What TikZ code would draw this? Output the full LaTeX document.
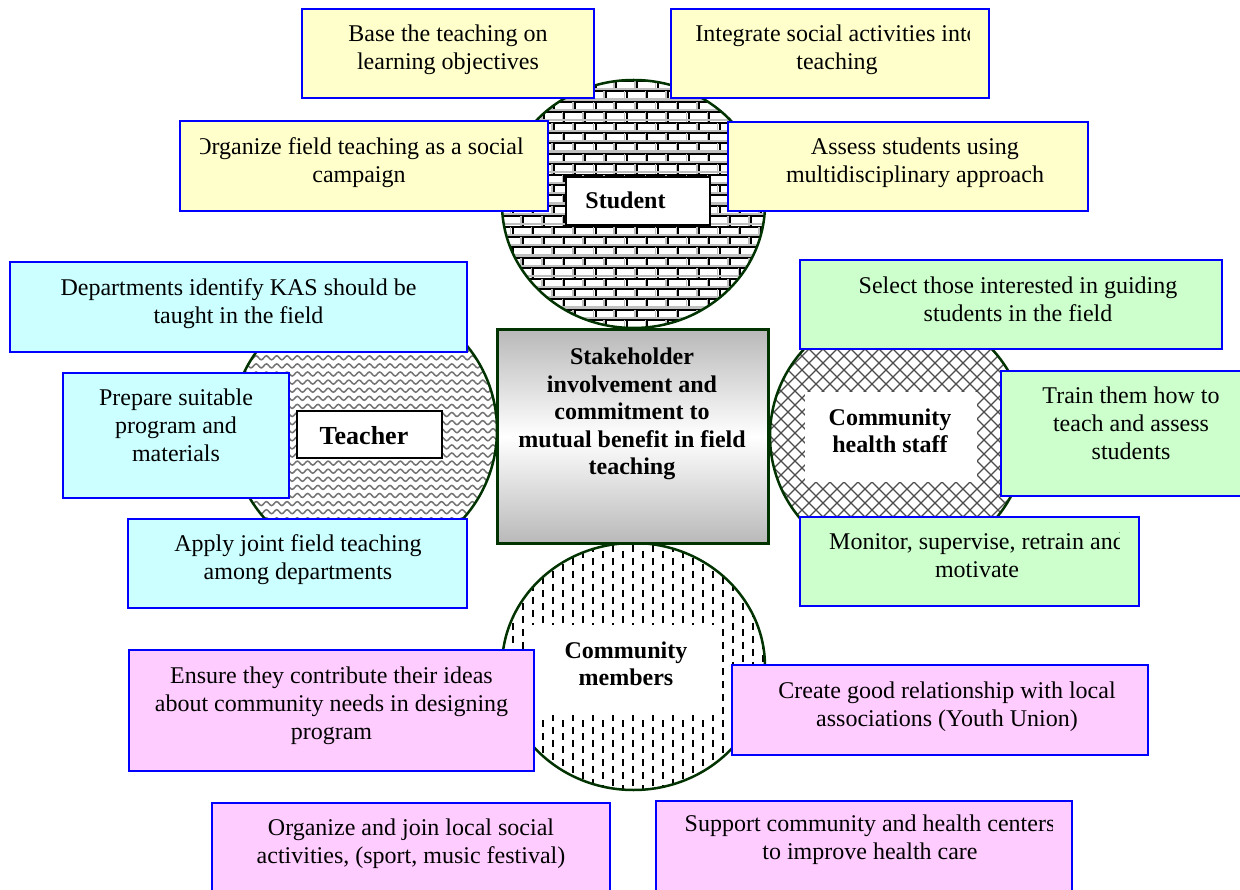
\documentclass[tikz,border=0pt]{standalone}
\usepackage{fontspec}
\setmainfont{Liberation Serif}
\usetikzlibrary{decorations.pathmorphing,shapes.geometric}
\definecolor{byel}{HTML}{FFFFCC}
\definecolor{bcyan}{HTML}{CCFFFF}
\definecolor{bgreen}{HTML}{CCFFCC}
\definecolor{bpink}{HTML}{FFCCFF}
\definecolor{dgreen}{HTML}{003300}
\definecolor{bblue}{HTML}{0000FF}
\tikzset{
  boxtxt/.style={font=\fontsize{24}{28}\selectfont, align=center, inner sep=0pt, anchor=base},
  lbltxt/.style={font=\fontsize{24}{27}\selectfont\bfseries, align=center, inner sep=0pt, anchor=base},
  ring/.style={draw=dgreen, line width=2.5pt},
  actbox/.style={draw=bblue, line width=2pt, inner sep=0pt, outer sep=0pt},
  plainlbl/.style={fill=white, inner sep=0pt, outer sep=0pt},
  framelbl/.style={draw=black, line width=1.5pt, fill=white, inner sep=0pt, outer sep=0pt},
}
% name, x1, y1, x2, y2, fill, text centre x, last baseline y, text
\newcommand\mybox[9]{%
  \node[actbox, fill=#6, minimum width={#4-#2}, minimum height={#5-#3}] (#1) at ({(#2+#4)/2},{(#3+#5)/2}) {};
  \begin{scope}
    \clip ({#2+20},#3) rectangle ({#4-20},#5);
    \node[boxtxt] (#1t) at (#7,{#8+1.5}) {#9};
  \end{scope}
}
\begin{document}
\begin{tikzpicture}[x=1pt,y=-1pt]
\useasboundingbox (0,0) rectangle (1240,890);
\fill[white] (0,0) rectangle (1240,890);

% ---------- Student circle (bricks)
\begin{scope}
  \clip (633.5,204) ellipse [x radius=131.5, y radius=124];
  \fill[white] (500,78) rectangle (768,330);
  \foreach \i in {0,...,24}{
    \pgfmathsetmacro\yy{81+\i*10.4}
    \pgfmathsetmacro\off{mod(\i,2)*10.35}
    \draw[gray!50, line width=2.2pt] (500,\yy-2.3) -- (768,\yy-2.3);
    \draw[black, line width=2pt] (500,\yy) -- (768,\yy);
    \foreach \j in {0,...,13}{
      \draw[gray!50, line width=1.5pt] ({490+\off+\j*20.7},\yy) -- ++(0,10.4);
      \draw[black, line width=2pt] ({492+\off+\j*20.7},\yy) -- ++(0,10.4);
    }
  }
\end{scope}
\node[ring, ellipse, minimum width=263, minimum height=248, inner sep=0pt, outer sep=0pt] (cstud) at (633.5,204) {};

% ---------- Teacher circle (waves)
\begin{scope}
  \clip (364,430) circle [radius=133];
  \fill[white] (225,290) rectangle (505,570);
  \foreach \i in {0,...,34}{
    \draw[black!55, line width=1.5pt, decorate, decoration={snake, segment length=10.3pt, amplitude=2pt}]
      (222,{293+\i*8.1}) -- (510,{293+\i*8.1});
  }
\end{scope}
\node[ring, circle, minimum size=266, inner sep=0pt, outer sep=0pt] (cteach) at (364,430) {};

% ---------- Community health staff circle (crosshatch)
\begin{scope}
  \clip (898,436) circle [radius=128];
  \fill[white] (765,300) rectangle (1030,570);
  \foreach \k in {0,...,40}{
    \pgfmathsetmacro\cc{480+\k*14}
    \draw[black!70, line width=1.3pt] (\cc,300) -- ++(280,280);
    \draw[black!70, line width=1.3pt] (\cc,580) -- ++(280,-280);
  }
\end{scope}
\node[ring, circle, minimum size=256, inner sep=0pt, outer sep=0pt] (cchs) at (898,436) {};

% ---------- Community members circle (dashes)
\begin{scope}
  \clip (633.5,666.5) ellipse [x radius=131.5, y radius=123.5];
  \fill[white] (500,540) rectangle (768,792);
  \foreach \j in {0,...,27}{
    \pgfmathsetmacro\xx{503+\j*10}
    \pgfmathsetmacro\yo{538+mod(\j,2)*6.5}
    \foreach \i in {0,...,19}{
      \draw[black, line width=2pt] (\xx,{\yo+\i*13}) -- ++(0,7);
    }
  }
\end{scope}
\node[ring, ellipse, minimum width=263, minimum height=247, inner sep=0pt, outer sep=0pt] (ccm) at (633.5,666.5) {};

% ---------- labels inside circles
\node[framelbl, minimum width=144, minimum height=48] (lstud) at (638,201) {};
\node[lbltxt] (lstudt) at (625.5,209) {Student};
\node[framelbl, minimum width=145, minimum height=47] (lteach) at (369.5,434.5) {};
\node[lbltxt, font=\fontsize{26}{28}\selectfont\bfseries] (lteacht) at (364,445) {Teacher};
\node[plainlbl, minimum width=172, minimum height=90] (lchs) at (891,437) {};
\node[lbltxt, font=\fontsize{24}{26.5}\selectfont\bfseries] (lchst) at (890,452.5) {Community\\health staff};
\node[plainlbl, minimum width=192, minimum height=90] (lcm) at (626,670) {};
\node[lbltxt] (lcmt) at (626,685) {Community\\members};

% ---------- central box
\node[draw=dgreen, line width=3pt, minimum width=271, minimum height=213, inner sep=0pt, outer sep=0pt,
      top color=gray!55, bottom color=gray!55, middle color=white] (core) at (632.5,436.5) {};
\node[lbltxt, font=\fontsize{24}{27.5}\selectfont\bfseries] (coret) at (632,475)
  {Stakeholder\\involvement and\\commitment to\\mutual benefit in field\\teaching};

% ---------- action boxes
\mybox{b1}{302}{9}{594}{98}{byel}{448}{68}{Base the teaching on\\learning objectives}
\mybox{b2}{671}{9}{989}{98}{byel}{837}{68}{Integrate social activities into\\teaching}
\mybox{b3}{180}{121}{548}{211}{byel}{359}{181}{Organize field teaching as a social\\campaign}
\mybox{b4}{728}{122}{1088}{211}{byel}{915}{181}{Assess students using\\multidisciplinary approach}

\mybox{b5}{10}{262}{467}{352}{bcyan}{238.5}{322}{Departments identify KAS should be\\taught in the field}
\mybox{b6}{63}{373}{289}{498}{bcyan}{176}{460}{Prepare suitable\\program and\\materials}
\mybox{b7}{128}{519}{467}{608}{bcyan}{298}{578}{Apply joint field teaching\\among departments}

\mybox{b8}{800}{260}{1222}{349}{bgreen}{1018}{320}{Select those interested in guiding\\students in the field}
\mybox{b9}{1001}{371}{1262}{496}{bgreen}{1131}{458}{Train them how to\\teach and assess\\students}
\mybox{b10}{800}{517}{1139}{606}{bgreen}{977}{576}{Monitor, supervise, retrain and\\motivate}

\mybox{b11}{129}{650}{534}{771}{bpink}{331.5}{738}{Ensure they contribute their ideas\\about community needs in designing\\program}
\mybox{b12}{732}{665}{1148}{755}{bpink}{947}{725}{Create good relationship with local\\associations (Youth Union)}
\mybox{b13}{212}{803}{610}{900}{bpink}{411}{862}{Organize and join local social\\activities, (sport, music festival)}
\mybox{b14}{656}{801}{1072}{900}{bpink}{870}{858}{Support community and health centers\\to improve health care}
\end{tikzpicture}
\end{document}
